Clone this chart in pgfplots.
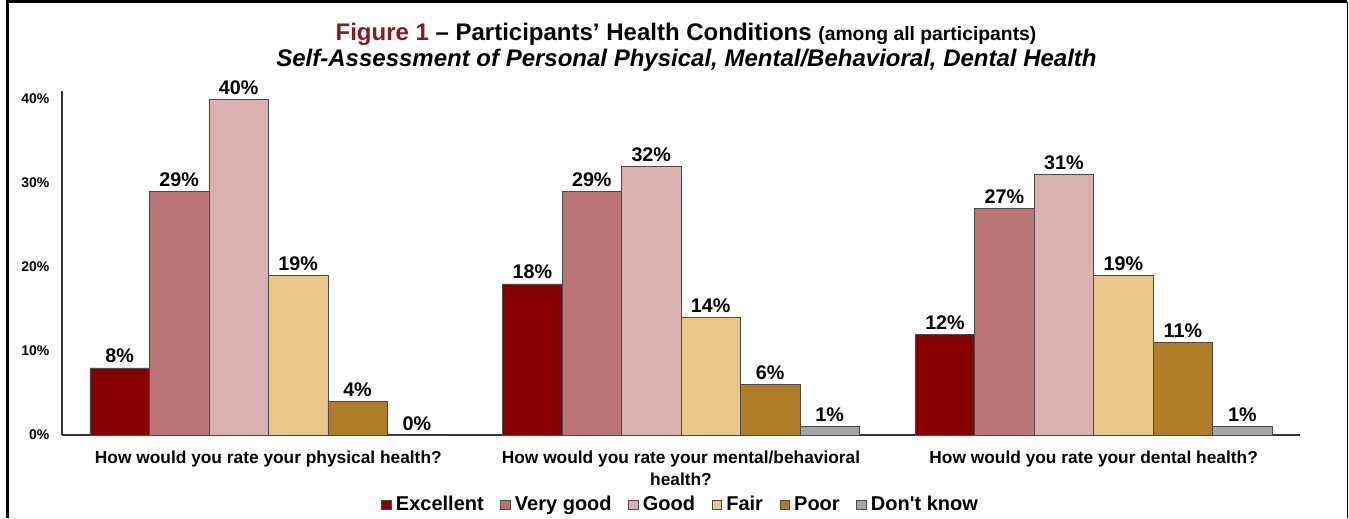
\documentclass[border=0pt]{standalone}
\usepackage{fontspec}
\setmainfont{Liberation Sans}
\usepackage{pgfplots}
\pgfplotsset{compat=1.18}
\definecolor{cExc}{HTML}{880000}
\definecolor{cVG}{HTML}{B97574}
\definecolor{cGood}{HTML}{DAB0B1}
\definecolor{cFair}{HTML}{E9C68A}
\definecolor{cPoor}{HTML}{AF7D26}
\definecolor{cDK}{HTML}{A6A6A6}
\definecolor{titlered}{HTML}{8B1A1A}
\definecolor{edge}{HTML}{4A4A4A}
\begin{document}
\begin{tikzpicture}
\useasboundingbox (-46.5pt,-62.25pt) rectangle (965.25pt,326.25pt);
\fill[white] (-46.5pt,-62.25pt) rectangle (965.25pt,326.25pt);
\begin{axis}[
  at={(0pt,0pt)}, anchor=south west,
  scale only axis, width=928.5pt, height=258.3pt,
  xmin=-0.5, xmax=2.5, ymin=0, ymax=41,
  ybar=0pt, bar width=44.6pt,
  axis x line*=bottom, axis y line*=left,
  axis line style={black!80, line width=0.8pt},
  major tick length=0pt,
  xtick={0,1,2},
  xticklabels={{How would you rate your physical health?},{How would you rate your mental/behavioral\\health?},{How would you rate your dental health?}},
  ytick={0,10,20,30,40},
  /pgf/number format/assume math mode=true,
  yticklabel={\pgfmathprintnumber{\tick}\%},
  yticklabel style={font=\bfseries\fontsize{10.5}{12}\selectfont, xshift=-6pt},
  xticklabel style={align=center, font=\bfseries\fontsize{13}{16.5}\selectfont, yshift=-8.5pt},
  nodes near coords={\pgfmathprintnumber{\pgfplotspointmeta}\%},
  every node near coord/.append style={font=\bfseries\fontsize{14.8}{16}\selectfont, black},
  legend columns=-1,
  legend style={at={(0.5,-0.2033)}, anchor=center, draw=none, fill=none,
    font=\bfseries\fontsize{15}{16}\selectfont,
    nodes={text height=11pt, text depth=3.5pt},
    /tikz/every even column/.append style={column sep=10.5pt},
    /tikz/every odd column/.append style={column sep=0pt}},
]
\addplot[fill=cExc, draw=edge, line width=0.4pt, legend image code/.code={\draw[fill=cExc,draw=edge,line width=0.4pt] (0pt,-3.2pt) rectangle (7pt,3.8pt); \path (8.5pt,0pt);}] coordinates {(0,8) (1,18) (2,12)};
\addplot[fill=cVG, draw=edge, line width=0.4pt, legend image code/.code={\draw[fill=cVG,draw=edge,line width=0.4pt] (0pt,-3.2pt) rectangle (7pt,3.8pt); \path (8.5pt,0pt);}] coordinates {(0,29) (1,29) (2,27)};
\addplot[fill=cGood, draw=edge, line width=0.4pt, legend image code/.code={\draw[fill=cGood,draw=edge,line width=0.4pt] (0pt,-3.2pt) rectangle (7pt,3.8pt); \path (8.5pt,0pt);}] coordinates {(0,40) (1,32) (2,31)};
\addplot[fill=cFair, draw=edge, line width=0.4pt, legend image code/.code={\draw[fill=cFair,draw=edge,line width=0.4pt] (0pt,-3.2pt) rectangle (7pt,3.8pt); \path (8.5pt,0pt);}] coordinates {(0,19) (1,14) (2,19)};
\addplot[fill=cPoor, draw=edge, line width=0.4pt, legend image code/.code={\draw[fill=cPoor,draw=edge,line width=0.4pt] (0pt,-3.2pt) rectangle (7pt,3.8pt); \path (8.5pt,0pt);}] coordinates {(0,4) (1,6) (2,11)};
\addplot[fill=cDK, draw=edge, line width=0.4pt, legend image code/.code={\draw[fill=cDK,draw=edge,line width=0.4pt] (0pt,-3.2pt) rectangle (7pt,3.8pt); \path (8.5pt,0pt);}] coordinates {(0,0) (1,1) (2,1)};
\legend{Excellent, Very good, Good, Fair, Poor, Don\textquotesingle t know}
\end{axis}
\node[anchor=base, font=\bfseries\fontsize{18}{21}\selectfont] at (468pt,295.9pt)
  {\textcolor{titlered}{Figure 1} – Participants’ Health Conditions {\fontsize{14.5}{17}\selectfont (among all participants)}};
\node[anchor=base, font=\bfseries\itshape\fontsize{18}{21}\selectfont] at (468.4pt,276pt)
  {Self-Assessment of Personal Physical, Mental/Behavioral, Dental Health};
\draw[black, line width=2.25pt] (-40.5pt,-62.25pt) -- (-40.5pt,324.75pt) -- (963.75pt,324.75pt);
\draw[black, line width=0.75pt] (963.75pt,324.75pt) -- (963.75pt,-62.25pt);
\end{tikzpicture}
\end{document}
